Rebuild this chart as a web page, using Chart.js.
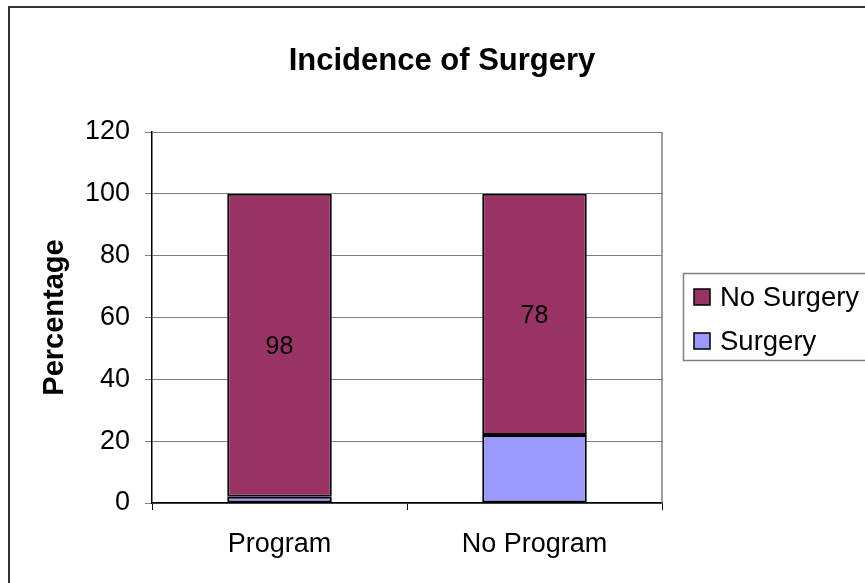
<!DOCTYPE html>
<html>
<head>
<meta charset="utf-8">
<title>Incidence of Surgery</title>
<script src="https://cdn.jsdelivr.net/npm/chart.js@4/dist/chart.umd.min.js"></script>
<style>
  html, body { margin: 0; padding: 0; background: #fff; }
</style>
</head>
<body>
<canvas id="chart" width="865" height="583"></canvas>
<script>
const categories = ['Program', 'No Program'];
const surgery = [2, 22];
const noSurgery = [98, 78];
const yTicks = [0, 20, 40, 60, 80, 100, 120];

const FONT = '"Liberation Sans", Arial, sans-serif';

// frame, title, legend box and labels drawn around the chart
const frame = {
    id: 'frame',
    beforeDraw(chart) {
        const ctx = chart.ctx;
        ctx.save();
        ctx.fillStyle = '#fff';
        ctx.fillRect(0, 0, chart.width, chart.height);
        ctx.restore();
    },
    afterDatasetsDraw(chart) {
        const ctx = chart.ctx;
        const idx = chart.data.datasets.findIndex(d => d.label === 'No Surgery');
        const meta = chart.getDatasetMeta(idx);
        ctx.save();
        ctx.fillStyle = '#000';
        ctx.font = '25px ' + FONT;
        ctx.textAlign = 'center';
        ctx.textBaseline = 'middle';
        meta.data.forEach((bar, i) => {
            const p = bar.getCenterPoint();
            ctx.fillText(String(chart.data.datasets[idx].data[i]), p.x, p.y + 2);
        });
        ctx.restore();
    },
    afterDraw(chart) {
        const ctx = chart.ctx;
        const a = chart.chartArea;
        ctx.save();

        // outer chart border
        ctx.strokeStyle = '#333';
        ctx.lineWidth = 2;
        ctx.strokeRect(9, 7, 900, 620);

        // right edge of plot area
        ctx.strokeStyle = '#808080';
        ctx.lineWidth = 1.5;
        ctx.beginPath();
        ctx.moveTo(a.right, a.top);
        ctx.lineTo(a.right, a.bottom);
        ctx.stroke();

        // title
        ctx.fillStyle = '#000';
        ctx.font = 'bold 31px ' + FONT;
        ctx.textAlign = 'center';
        ctx.textBaseline = 'alphabetic';
        ctx.fillText('Incidence of Surgery', 442, 70);

        // legend
        ctx.strokeStyle = '#808080';
        ctx.lineWidth = 1.5;
        ctx.strokeRect(683.5, 273.5, 300, 87);
        const items = chart.data.datasets.slice().reverse();
        ctx.font = '27.5px ' + FONT;
        ctx.textAlign = 'left';
        ctx.textBaseline = 'middle';
        items.forEach((ds, i) => {
            const cy = 297 + i * 44;
            ctx.fillStyle = ds.backgroundColor;
            ctx.fillRect(694, cy - 8, 16, 16);
            ctx.strokeStyle = '#000';
            ctx.lineWidth = 1.5;
            ctx.strokeRect(694, cy - 8, 16, 16);
            ctx.fillStyle = '#000';
            ctx.fillText(ds.label, 720, cy + 1);
        });
        ctx.restore();
    }
};

new Chart(document.getElementById('chart'), {
    type: 'bar',
    data: {
        labels: categories,
        datasets: [
            {
                label: 'Surgery',
                data: surgery,
                backgroundColor: '#9999FF',
                borderColor: '#000',
                borderWidth: 2,
                borderSkipped: false
            },
            {
                label: 'No Surgery',
                data: noSurgery,
                backgroundColor: '#993366',
                borderColor: '#000',
                borderWidth: 2,
                borderSkipped: false
            }
        ]
    },
    options: {
        responsive: false,
        animation: false,
        events: [],
        categoryPercentage: 0.41,
        barPercentage: 1,
        layout: {
            padding: { left: 0, top: 132, right: 203, bottom: 0 }
        },
        plugins: {
            legend: { display: false },
            title: { display: false },
            tooltip: { enabled: false }
        },
        scales: {
            x: {
                stacked: true,
                afterFit: s => { s.height = 80; },
                grid: {
                    display: true,
                    drawOnChartArea: false,
                    drawTicks: true,
                    tickLength: 7,
                    color: '#000',
                    offset: true
                },
                border: { color: '#000', width: 1.5 },
                ticks: {
                    color: '#000',
                    padding: 18,
                    maxRotation: 0,
                    font: { family: FONT, size: 27 }
                }
            },
            y: {
                stacked: true,
                min: yTicks[0],
                max: yTicks[yTicks.length - 1],
                afterFit: s => { s.width = 152; },
                afterBuildTicks: s => { s.ticks = yTicks.map(v => ({ value: v })); },
                grid: {
                    color: '#808080',
                    lineWidth: 1,
                    tickLength: 7
                },
                border: { color: '#000', width: 1.5 },
                ticks: {
                    color: '#000',
                    padding: 15,
                    font: { family: FONT, size: 27 }
                },
                title: {
                    display: true,
                    text: 'Percentage',
                    color: '#000',
                    padding: { top: 38, bottom: 0 },
                    font: { family: FONT, size: 29, weight: 'bold' }
                }
            }
        }
    },
    plugins: [frame]
});
</script>
</body>
</html>
